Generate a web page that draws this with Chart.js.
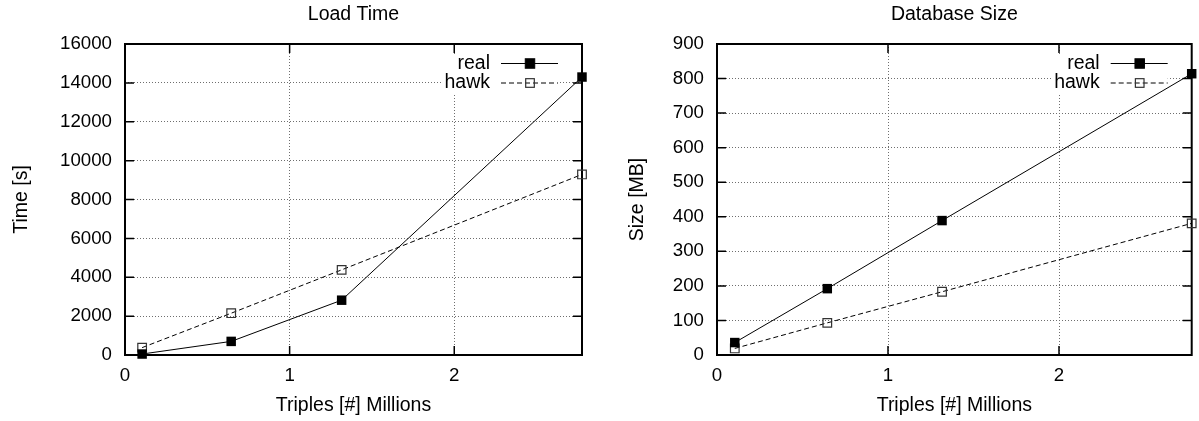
<!DOCTYPE html>
<html>
<head>
<meta charset="utf-8">
<script src="https://cdn.jsdelivr.net/npm/chart.js@4.4.1/dist/chart.umd.min.js"></script>
<style>
  html, body { margin: 0; padding: 0; background: #fff; }
  #wrap { position: relative; width: 1199px; height: 421px; overflow: hidden; }
  canvas { position: absolute; top: 0; }
  #canvasLoad { left: 0; }
  #canvasSize { left: 600px; }
</style>
</head>
<body>
<div id="wrap">
  <canvas id="canvasLoad" width="600" height="421"></canvas>
  <canvas id="canvasSize" width="599" height="421"></canvas>
</div>
<script>
// triples loaded (millions)
var triples = [0.104, 0.645, 1.316, 2.776];

// load time in seconds
var loadReal = [50, 700, 2820, 14300];
var loadHawk = [380, 2150, 4380, 9290];

// database size in MB
var sizeReal = [36, 192, 389, 814];
var sizeHawk = [19, 93, 183, 381];

var seriesNames = ['real', 'hawk'];

var xTicks = [0, 1, 2];
var loadTicks = [0, 2000, 4000, 6000, 8000, 10000, 12000, 14000, 16000];
var sizeTicks = [0, 100, 200, 300, 400, 500, 600, 700, 800, 900];

var FONT = "'Liberation Sans', Arial, Helvetica, sans-serif";

function toPoints(ys) {
    return ys.map(function (y, i) {
        return { x: triples[i], y: y };
    });
}

function squareSide(r) {
    return 2 * r * Math.SQRT1_2;
}

// title centred over the plot area
var plotTitle = {
    id: 'plotTitle',
    afterDraw: function (chart, args, opts) {
        var ctx = chart.ctx, a = chart.chartArea;
        ctx.save();
        ctx.font = '19.5px ' + FONT;
        ctx.fillStyle = '#000';
        ctx.textAlign = 'center';
        ctx.textBaseline = 'middle';
        ctx.fillText(opts.text, (a.left + a.right) / 2, 15);
        ctx.restore();
    }
};

// gnuplot style frame with inward tics, plus the key in the top right
var frameKey = {
    id: 'frameKey',
    beforeDatasetsDraw: function (chart) {
        var ctx = chart.ctx, a = chart.chartArea;
        var xs = chart.scales.x, ys = chart.scales.y;
        ctx.save();

        // key
        ctx.font = '19.5px ' + FONT;
        var textRight = a.right - 92;
        var lineStart = a.right - 81, lineEnd = a.right - 24, mark = a.right - 52;
        var widest = 0;
        chart.data.datasets.forEach(function (ds) {
            widest = Math.max(widest, ctx.measureText(ds.label).width);
        });
        ctx.fillStyle = '#fff';
        ctx.fillRect(textRight - widest - 2, a.top + 10, lineEnd - textRight + widest + 2, 39);

        chart.data.datasets.forEach(function (ds, i) {
            var y = a.top + 19.5 + i * 19.5;
            ctx.fillStyle = '#000';
            ctx.textAlign = 'right';
            ctx.textBaseline = 'middle';
            ctx.fillText(ds.label, textRight, y);

            ctx.strokeStyle = ds.borderColor;
            ctx.lineWidth = 1;
            ctx.setLineDash(ds.borderDash || []);
            ctx.beginPath();
            ctx.moveTo(lineStart, y);
            ctx.lineTo(lineEnd, y);
            ctx.stroke();
            ctx.setLineDash([]);

            var s = squareSide(ds.pointRadius);
            if (ds.pointBackgroundColor !== 'transparent') {
                ctx.fillStyle = ds.pointBackgroundColor;
                ctx.fillRect(mark - s / 2, y - s / 2, s, s);
            }
            ctx.strokeStyle = ds.pointBorderColor;
            ctx.lineWidth = ds.pointBorderWidth;
            ctx.strokeRect(mark - s / 2, y - s / 2, s, s);
        });

        // inward tic marks on all four sides
        ctx.strokeStyle = '#000';
        ctx.lineWidth = 1.5;
        ctx.beginPath();
        ys.ticks.forEach(function (t) {
            var py = ys.getPixelForValue(t.value);
            ctx.moveTo(a.left, py); ctx.lineTo(a.left + 9, py);
            ctx.moveTo(a.right, py); ctx.lineTo(a.right - 9, py);
        });
        xs.ticks.forEach(function (t) {
            var px = xs.getPixelForValue(t.value);
            ctx.moveTo(px, a.bottom); ctx.lineTo(px, a.bottom - 9);
            ctx.moveTo(px, a.top); ctx.lineTo(px, a.top + 9);
        });
        ctx.stroke();

        // border
        ctx.lineWidth = 2;
        ctx.strokeRect(a.left, a.top, a.right - a.left, a.bottom - a.top);
        ctx.restore();
    }
};

function makeChart(id, title, yTitle, yTicks, real, hawk, geo) {
    var tickFont = { family: FONT, size: 18.7 };
    var titleFont = { family: FONT, size: 19.5 };
    return new Chart(document.getElementById(id), {
        type: 'scatter',
        data: {
            datasets: [{
                label: seriesNames[0],
                data: toPoints(real),
                showLine: true,
                borderColor: '#000',
                borderWidth: 1,
                pointStyle: 'rect',
                pointRadius: 6.7,
                pointBackgroundColor: '#000',
                pointBorderColor: '#000',
                pointBorderWidth: 0,
                clip: false
            }, {
                label: seriesNames[1],
                data: toPoints(hawk),
                showLine: true,
                borderColor: '#000',
                borderWidth: 1,
                borderDash: [5, 3],
                pointStyle: 'rect',
                pointRadius: 6.1,
                pointBackgroundColor: 'transparent',
                pointBorderColor: '#333',
                pointBorderWidth: 1.2,
                clip: false
            }]
        },
        options: {
            responsive: false,
            animation: false,
            devicePixelRatio: 1,
            layout: { padding: { left: 0, right: geo.padRight, top: 44, bottom: 0 } },
            plugins: {
                legend: { display: false },
                tooltip: { enabled: false },
                plotTitle: { text: title }
            },
            scales: {
                x: {
                    type: 'linear',
                    min: 0,
                    max: triples[triples.length - 1],
                    afterBuildTicks: function (s) {
                        s.ticks = xTicks.map(function (v) { return { value: v }; });
                    },
                    afterFit: function (s) { s.height = 66; },
                    grid: { color: '#6e6e6e', lineWidth: 1, drawTicks: false },
                    border: { display: false, dash: [1, 2] },
                    ticks: {
                        padding: 10,
                        color: '#000',
                        font: tickFont,
                        maxRotation: 0,
                        callback: function (v) { return String(v); }
                    },
                    title: {
                        display: true,
                        text: 'Triples [#] Millions',
                        color: '#000',
                        font: titleFont,
                        padding: { top: 0, bottom: 4 }
                    }
                },
                y: {
                    min: yTicks[0],
                    max: yTicks[yTicks.length - 1],
                    afterBuildTicks: function (s) {
                        s.ticks = yTicks.map(function (v) { return { value: v }; });
                    },
                    afterFit: function (s) { s.width = geo.yWidth; },
                    grid: { color: '#6e6e6e', lineWidth: 1, drawTicks: false },
                    border: { display: false, dash: [1, 2] },
                    ticks: {
                        padding: 13,
                        color: '#000',
                        font: tickFont,
                        callback: function (v) { return String(v); }
                    },
                    title: {
                        display: true,
                        text: yTitle,
                        color: '#000',
                        font: titleFont,
                        padding: { top: geo.yTitlePad, bottom: 0 }
                    }
                }
            }
        },
        plugins: [frameKey, plotTitle]
    });
}

window.onload = function () {
    makeChart('canvasLoad', 'Load Time', 'Time [s]', loadTicks, loadReal, loadHawk,
        { yWidth: 125, yTitlePad: 10, padRight: 18 });
    makeChart('canvasSize', 'Database Size', 'Size [MB]', sizeTicks, sizeReal, sizeHawk,
        { yWidth: 117, yTitlePad: 26, padRight: 2 });
};
</script>
</body>
</html>
